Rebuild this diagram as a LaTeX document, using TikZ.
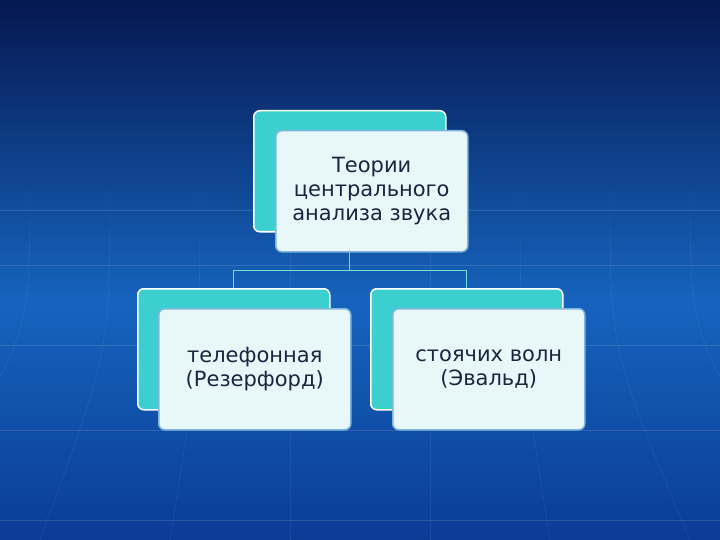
\documentclass[tikz,border=0pt]{standalone}
\usepackage{fontspec}
\setmainfont{DejaVu Sans}
\definecolor{teal1}{HTML}{3CCFCF}
\definecolor{front}{HTML}{E8F7F8}
\definecolor{edge}{HTML}{7FB6DE}
\definecolor{txt}{HTML}{1A2540}
\tikzset{
 backbox/.style={draw=white,line width=1.5pt,fill=teal1,rounded corners=6pt,minimum width=192pt,minimum height=121pt,anchor=north west},
 frontbox/.style={draw=edge,line width=1.5pt,fill=front,rounded corners=6pt,minimum width=192pt,minimum height=121pt,anchor=north west,align=center,text=txt,font=\fontsize{21}{24}\selectfont,inner sep=1pt},
 conn/.style={draw=teal1!70!white,line width=1pt}
}
\begin{document}
\begin{tikzpicture}[x=1pt,y=-1pt]
\useasboundingbox (0,0) rectangle (720,540);
\shade[top color={rgb,255:red,6;green,24;blue,80},bottom color={rgb,255:red,22;green,100;blue,190}] (0,0) rectangle (720,300);
\shade[top color={rgb,255:red,22;green,100;blue,190},bottom color={rgb,255:red,10;green,60;blue,150}] (0,300) rectangle (720,540);
\foreach \y in {210,265,345,430,520}{\draw[white,opacity=0.12] (0,\y) -- (720,\y);}
\foreach \x/\b in {30/-120,110/40,200/170,290/290,430/430,520/550,610/690,690/840}{\draw[white,opacity=0.1] (\x,190) .. controls (\x,350) .. (\b,540);}
\node[backbox] (tb) at (253,110) {};
\node[frontbox] (t) at (275,130) {Теории\\центрального\\анализа звука};
\node[backbox] (lb) at (137,288) {};
\node[frontbox] (l) at (158,308) {телефонная\\(Резерфорд)};
\node[backbox] (rb) at (370,288) {};
\node[frontbox] (r) at (392,308) {стоячих волн\\(Эвальд)};
\coordinate (m) at (349,270);
\coordinate (m0) at (349,250);
\draw[conn] (m0) -- (m) -| (lb.north);
\draw[conn] (m) -| (rb.north);
\end{tikzpicture}
\end{document}
